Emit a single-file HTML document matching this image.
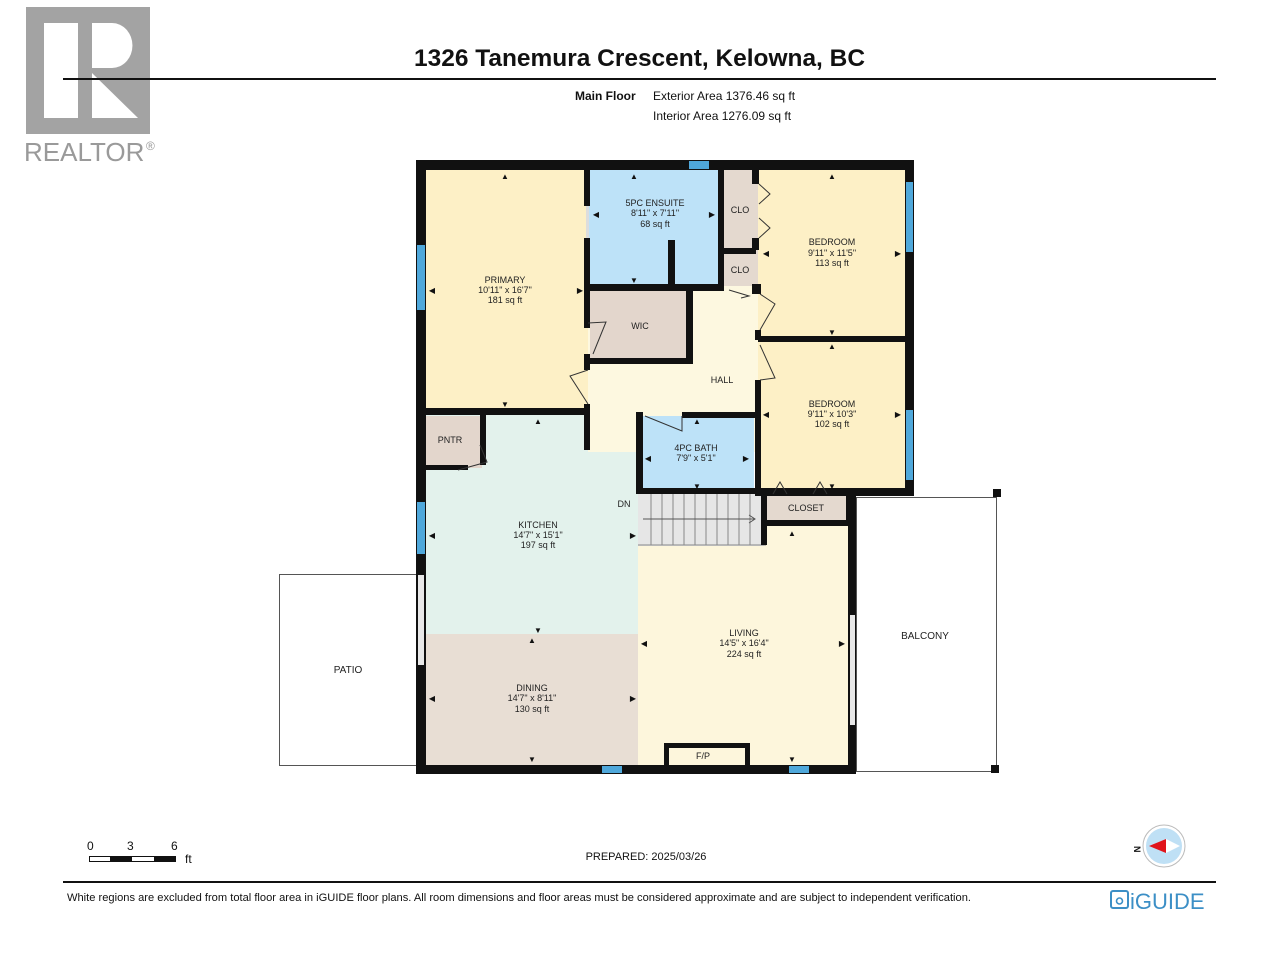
<!DOCTYPE html>
<html><head><meta charset="utf-8"><style>
html,body{margin:0;padding:0;background:#fff}
svg{display:block}
text{font-family:"Liberation Sans",Arial,sans-serif}
</style></head><body>
<svg width="1280" height="960" viewBox="0 0 1280 960" xmlns="http://www.w3.org/2000/svg">
<rect width="1280" height="960" fill="#fff"/>
<!-- Realtor logo -->
<rect x="26" y="7" width="124" height="127" fill="#a3a3a3"/>
<rect x="44" y="23" width="34" height="95" fill="#fff"/>
<path d="M92 23 H112 A20 22 0 0 1 112 68 H92 Z" fill="#fff"/>
<path d="M92 73 L92 118 L138 118 Z" fill="#fff"/>
<text x="24" y="161" font-size="26" fill="#9a9a9a">REALTOR</text>
<text x="146" y="150" font-size="12" fill="#9a9a9a">®</text>
<!-- header -->
<text x="414" y="66" font-size="24" font-weight="bold" fill="#111" textLength="451" lengthAdjust="spacingAndGlyphs">1326 Tanemura Crescent, Kelowna, BC</text>
<line x1="63" y1="79" x2="1216" y2="79" stroke="#111" stroke-width="2"/>
<text x="575" y="100" font-size="12" font-weight="bold" fill="#111">Main Floor</text>
<text x="653" y="100" font-size="12" fill="#111">Exterior Area 1376.46 sq ft</text>
<text x="653" y="120" font-size="12" fill="#111">Interior Area 1276.09 sq ft</text>

<!-- patio & balcony outlines -->
<rect x="279.5" y="574.5" width="137" height="191" fill="#fff" stroke="#555" stroke-width="1"/>
<rect x="856.5" y="497.5" width="140" height="274" fill="#fff" stroke="#555" stroke-width="1"/>
<rect x="993" y="489" width="8" height="8" fill="#111"/>
<rect x="991" y="765" width="8" height="8" fill="#111"/>
<text x="348" y="673" font-size="10" text-anchor="middle" fill="#222">PATIO</text>
<text x="925" y="639" font-size="10" text-anchor="middle" fill="#222">BALCONY</text>

<!-- room fills -->
<rect x="426" y="170" width="162" height="242" fill="#fdf0c6"/>
<rect x="588" y="170" width="134" height="116" fill="#bde2f8"/>
<rect x="722" y="170" width="36" height="118" fill="#e4d9cf"/>
<rect x="758" y="170" width="148" height="168" fill="#fdf0c6"/>
<rect x="758" y="338" width="148" height="154" fill="#fdf0c6"/>
<rect x="588" y="286" width="170" height="166" fill="#fdf8e0"/>
<rect x="590" y="290" width="100" height="70" fill="#e3d6cc"/>
<rect x="426" y="412" width="212" height="222" fill="#e3f2ec"/>
<rect x="588" y="412" width="50" height="40" fill="#fdf8e0"/>
<rect x="426" y="416" width="56" height="52" fill="#e3d6cc"/>
<rect x="640" y="416" width="114" height="76" fill="#bde2f8"/>
<rect x="638" y="492" width="128" height="54" fill="#e6e6e6"/>
<rect x="766" y="494" width="84" height="28" fill="#e4d9cf"/>
<rect x="638" y="524" width="212" height="244" fill="#fdf6dc"/>
<rect x="638" y="492" width="126" height="54" fill="#e6e6e6"/>
<rect x="426" y="634" width="212" height="134" fill="#e8ded4"/>

<!-- stairs -->
<g stroke="#888" stroke-width="1">
<line x1="651" y1="494" x2="651" y2="545"/><line x1="662" y1="494" x2="662" y2="545"/>
<line x1="673" y1="494" x2="673" y2="545"/><line x1="684" y1="494" x2="684" y2="545"/>
<line x1="695" y1="494" x2="695" y2="545"/><line x1="706" y1="494" x2="706" y2="545"/>
<line x1="717" y1="494" x2="717" y2="545"/><line x1="728" y1="494" x2="728" y2="545"/>
<line x1="739" y1="494" x2="739" y2="545"/><line x1="750" y1="494" x2="750" y2="545"/>
<line x1="638" y1="545" x2="766" y2="545"/>
<line x1="643" y1="519" x2="755" y2="519" stroke="#555"/>
<polyline points="749,515 755,519 749,523" fill="none" stroke="#555"/>
</g>

<!-- walls -->
<g fill="#111">
<rect x="416" y="160" width="498" height="10"/>
<rect x="416" y="160" width="10" height="614"/>
<rect x="905" y="160" width="9" height="336"/>
<rect x="416" y="765" width="440" height="9"/>
<rect x="848" y="490" width="8" height="284"/>
<rect x="755" y="488" width="159" height="8"/>
<rect x="584" y="170" width="6" height="36"/>
<rect x="584" y="238" width="6" height="90"/>
<rect x="584" y="354" width="6" height="16"/>
<rect x="584" y="404" width="6" height="46"/>
<rect x="426" y="408" width="164" height="7"/>
<rect x="590" y="284" width="134" height="7"/>
<rect x="668" y="240" width="7" height="46"/>
<rect x="718" y="170" width="6" height="120"/>
<rect x="724" y="248" width="32" height="6"/>
<rect x="686" y="290" width="7" height="74"/>
<rect x="590" y="358" width="103" height="6"/>
<rect x="752" y="170" width="7" height="14"/>
<rect x="752" y="238" width="7" height="12"/>
<rect x="752" y="284" width="9" height="10"/>
<rect x="755" y="330" width="6" height="10"/>
<rect x="755" y="380" width="6" height="116"/>
<rect x="758" y="336" width="150" height="6"/>
<rect x="480" y="415" width="6" height="50"/>
<rect x="426" y="465" width="42" height="5"/>
<rect x="636" y="412" width="7" height="82"/>
<rect x="682" y="412" width="76" height="6"/>
<rect x="636" y="488" width="128" height="6"/>
<rect x="761" y="490" width="6" height="55"/>
<rect x="764" y="520" width="86" height="6"/>
<rect x="846" y="494" width="4" height="30"/>
<rect x="664" y="743" width="86" height="5"/>
<rect x="664" y="743" width="5" height="25"/>
<rect x="745" y="743" width="5" height="25"/>
</g>
<rect x="418" y="575" width="6" height="90" fill="#e8e8e8"/>
<rect x="850" y="615" width="5" height="110" fill="#e8e8e8"/>
<rect x="586" y="206" width="3" height="32" fill="#ddd"/>
<g fill="#4fa8db">
<rect x="417" y="245" width="8" height="65"/>
<rect x="417" y="502" width="8" height="52"/>
<rect x="689" y="161" width="20" height="8"/>
<rect x="906" y="182" width="7" height="70"/>
<rect x="906" y="410" width="7" height="70"/>
<rect x="602" y="766" width="20" height="7"/>
<rect x="789" y="766" width="20" height="7"/>
</g>
<g fill="none" stroke="#333" stroke-width="1">
<polyline points="759,184 770,194 759,204"/>
<polyline points="759,218 770,228 759,238"/>
<polyline points="588,323 606,322 593,354"/>
<polyline points="588,404 570,376 588,370"/>
<polyline points="729,290 749,296 741,298"/>
<polyline points="760,294 775,304 760,330"/>
<polyline points="760,345 775,378 760,380"/>
<polyline points="645,416 682,431 682,416"/>
<polyline points="458,470 487,462 480,445"/>
<polyline points="773,494 780,482 787,494"/>
<polyline points="813,494 820,482 827,494"/>
</g>

<g font-size="9" text-anchor="middle" fill="#222">
<text x="505" y="283">PRIMARY</text><text x="505" y="293">10'11" x 16'7"</text><text x="505" y="303">181 sq ft</text>
<text x="655" y="206">5PC ENSUITE</text><text x="655" y="216">8'11" x 7'11"</text><text x="655" y="227">68 sq ft</text>
<text x="740" y="213">CLO</text>
<text x="740" y="273">CLO</text>
<text x="832" y="245">BEDROOM</text><text x="832" y="256">9'11" x 11'5"</text><text x="832" y="266">113 sq ft</text>
<text x="640" y="329">WIC</text>
<text x="722" y="383">HALL</text>
<text x="832" y="407">BEDROOM</text><text x="832" y="417">9'11" x 10'3"</text><text x="832" y="427">102 sq ft</text>
<text x="450" y="443">PNTR</text>
<text x="696" y="451">4PC BATH</text><text x="696" y="461">7'9" x 5'1"</text>
<text x="624" y="507">DN</text>
<text x="806" y="511">CLOSET</text>
<text x="538" y="528">KITCHEN</text><text x="538" y="538">14'7" x 15'1"</text><text x="538" y="548">197 sq ft</text>
<text x="744" y="636">LIVING</text><text x="744" y="646">14'5" x 16'4"</text><text x="744" y="657">224 sq ft</text>
<text x="532" y="691">DINING</text><text x="532" y="701">14'7" x 8'11"</text><text x="532" y="712">130 sq ft</text>
<text x="703" y="759">F/P</text>
</g>
<g fill="#111" font-size="8" text-anchor="middle">
<text x="505" y="179">▲</text><text x="505" y="407">▼</text><text x="432" y="293">◀</text><text x="580" y="293">▶</text>
<text x="634" y="179">▲</text><text x="634" y="283">▼</text><text x="596" y="217">◀</text><text x="712" y="217">▶</text>
<text x="832" y="179">▲</text><text x="832" y="335">▼</text><text x="766" y="256">◀</text><text x="898" y="256">▶</text>
<text x="832" y="349">▲</text><text x="832" y="489">▼</text><text x="766" y="417">◀</text><text x="898" y="417">▶</text>
<text x="697" y="424">▲</text><text x="697" y="489">▼</text><text x="648" y="461">◀</text><text x="746" y="461">▶</text>
<text x="538" y="424">▲</text><text x="538" y="633">▼</text><text x="432" y="538">◀</text><text x="633" y="538">▶</text>
<text x="532" y="643">▲</text><text x="532" y="762">▼</text><text x="432" y="701">◀</text><text x="633" y="701">▶</text>
<text x="792" y="536">▲</text><text x="792" y="762">▼</text><text x="644" y="646">◀</text><text x="842" y="646">▶</text>
</g>

<text x="87" y="850" font-size="12" fill="#111">0</text>
<text x="127" y="850" font-size="12" fill="#111">3</text>
<text x="171" y="850" font-size="12" fill="#111">6</text>
<rect x="89.5" y="856.5" width="86" height="5" fill="#fff" stroke="#111"/>
<rect x="110" y="856" width="22" height="6" fill="#111"/>
<rect x="154" y="856" width="22" height="6" fill="#111"/>
<text x="185" y="863" font-size="12" fill="#111">ft</text>
<text x="646" y="860" font-size="11" text-anchor="middle" fill="#111">PREPARED: 2025/03/26</text>
<circle cx="1164" cy="846" r="21" fill="#fff" stroke="#bbb"/>
<circle cx="1164" cy="846" r="18" fill="#bfe0f5"/>
<polygon points="1149,846 1166,839 1166,853" fill="#e0141b"/>
<polygon points="1166,839 1180,846 1166,853" fill="#fff"/>
<text x="1137" y="849" font-size="9" font-weight="bold" fill="#111" transform="rotate(90 1137 846)">N</text>

<line x1="63" y1="882" x2="1216" y2="882" stroke="#111" stroke-width="2"/>
<text x="67" y="901" font-size="11" fill="#111" textLength="904" lengthAdjust="spacingAndGlyphs">White regions are excluded from total floor area in iGUIDE floor plans. All room dimensions and floor areas must be considered approximate and are subject to independent verification.</text>
<rect x="1111" y="891" width="17" height="17" rx="2" fill="none" stroke="#3c8fc6" stroke-width="2"/>
<circle cx="1119.5" cy="901" r="3" fill="none" stroke="#3c8fc6" stroke-width="1.6"/>
<text x="1130" y="909" font-size="22" fill="#3c8fc6">iGUIDE</text>
</svg>
</body></html>
